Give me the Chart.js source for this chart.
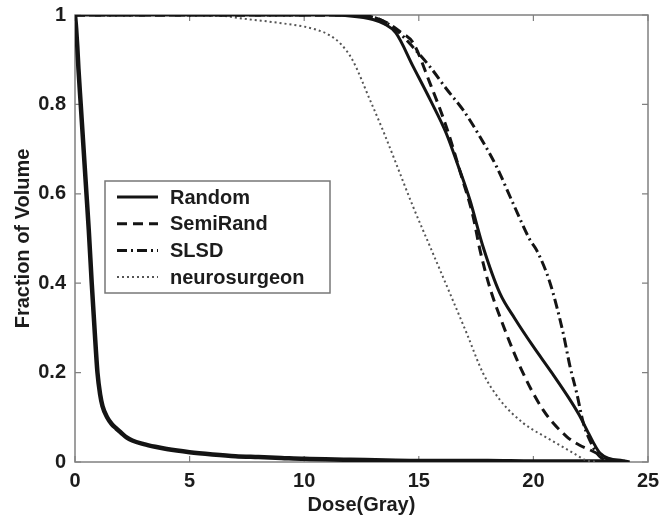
<!DOCTYPE html>
<html><head><meta charset="utf-8">
<script src="https://cdn.jsdelivr.net/npm/chart.js@4/dist/chart.umd.min.js"></script>
<style>html,body{margin:0;padding:0;background:#fff}#wrap{width:660px;height:519px}</style>
</head><body><div id="wrap"><canvas id="c" width="660" height="519"></canvas></div>
<script>
// ---- data ----
const xTicks = [0, 5, 10, 15, 20, 25];
const yTicks = [0, 0.2, 0.4, 0.6, 0.8, 1];
const yTickLabels = ['0', '0.2', '0.4', '0.6', '0.8', '1'];
const seriesNames = ['Random', 'SemiRand', 'SLSD', 'neurosurgeon'];

const randomDose = [0, 11, 12, 13, 13.5, 14.0, 14.76, 15.5, 16.2, 16.7, 17.23, 17.8, 18.54, 19.2, 20.0, 20.8, 21.6, 22.0, 22.33, 22.6, 22.9, 23.3, 23.9, 24.2];
const randomFrac = [1, 1, 0.998, 0.99, 0.98, 0.96, 0.884, 0.81, 0.735, 0.665, 0.586, 0.482, 0.377, 0.32, 0.258, 0.2, 0.139, 0.105, 0.072, 0.045, 0.02, 0.008, 0.003, 0];

const semiDose = [0, 12, 13, 13.7, 14.2, 14.76, 15.49, 16.2, 16.8, 17.37, 17.67, 18.1, 18.54, 19.42, 20.43, 21.45, 22.0, 22.47, 22.9, 23.3, 23.8];
const semiFrac = [1, 1, 0.995, 0.98, 0.962, 0.937, 0.847, 0.75, 0.65, 0.549, 0.474, 0.39, 0.325, 0.213, 0.116, 0.057, 0.038, 0.027, 0.016, 0.005, 0];

const slsdDose = [0, 12, 13, 13.5, 14.03, 14.8, 15.49, 16.2, 16.94, 17.7, 18.4, 19.1, 19.85, 20.14, 20.73, 21.3, 21.6, 21.89, 22.18, 22.6, 22.9, 23.5, 24.0];
const slsdFrac = [1, 1, 0.995, 0.985, 0.966, 0.925, 0.884, 0.835, 0.787, 0.725, 0.66, 0.58, 0.497, 0.474, 0.4, 0.288, 0.213, 0.154, 0.087, 0.034, 0.012, 0.002, 0];

const neuroDose = [0, 5, 6.5, 7.3, 8, 9.1, 10, 10.6, 11.1, 11.6, 12.1, 12.87, 13.45, 14.03, 14.76, 15.49, 16.36, 17.09, 17.8, 18.54, 19.56, 20.73, 21.74, 22.3, 22.8];
const neuroFrac = [1, 1, 0.998, 0.992, 0.988, 0.981, 0.974, 0.966, 0.955, 0.935, 0.9, 0.81, 0.74, 0.665, 0.57, 0.482, 0.377, 0.288, 0.199, 0.139, 0.087, 0.05, 0.02, 0.004, 0];

// normal-tissue curves (all four methods overlap near the y axis)
const tissueDose = [0, 0.05, 0.1, 0.15, 0.25, 0.35, 0.5, 0.6, 0.73, 0.85, 0.98, 1.1, 1.2, 1.4, 1.6, 1.8, 2.0, 2.25, 2.5, 3.0, 3.5, 4.0, 5.0, 6.0, 7.0, 8.0, 9.0, 10.0, 12.0, 14.0, 16.0, 18.0, 20.0, 22.0, 23.0, 24.0];
const tissueFrac = [1, 0.97, 0.93, 0.88, 0.8, 0.72, 0.6, 0.52, 0.4, 0.3, 0.2, 0.15, 0.125, 0.1, 0.085, 0.075, 0.066, 0.055, 0.048, 0.04, 0.034, 0.029, 0.022, 0.017, 0.013, 0.011, 0.009, 0.007, 0.005, 0.003, 0.002, 0.002, 0.001, 0.001, 0.001, 0];

const pts = (xs, ys) => xs.map((x, i) => ({x: x, y: ys[i]}));
const INK = '#141414';
const FONT = '"Liberation Sans", Arial, Helvetica, sans-serif';

const styles = [
  {borderColor: INK, borderWidth: 3, borderDash: []},
  {borderColor: INK, borderWidth: 3, borderDash: [10, 6]},
  {borderColor: INK, borderWidth: 3, borderDash: [10, 4, 2, 4]},
  {borderColor: '#555', borderWidth: 2, borderDash: [2, 3]}
];
const seriesData = [pts(randomDose, randomFrac), pts(semiDose, semiFrac), pts(slsdDose, slsdFrac), pts(neuroDose, neuroFrac)];

const datasets = seriesNames.map((n, i) => Object.assign({
  label: n, data: seriesData[i], pointRadius: 0, fill: false,
  cubicInterpolationMode: 'monotone'
}, styles[i]));
datasets.push({label: 'tissue', data: pts(tissueDose, tissueFrac), borderColor: INK, borderWidth: 4.5,
  pointRadius: 0, fill: false, cubicInterpolationMode: 'monotone'});

const framePlugin = {
  id: 'frame',
  beforeDatasetsDraw(chart) {
    const {ctx, chartArea: a, scales} = chart;
    ctx.save();
    ctx.strokeStyle = '#808080';
    ctx.lineWidth = 1.5;
    ctx.strokeRect(a.left, a.top, a.right - a.left, a.bottom - a.top);
    ctx.lineWidth = 1.2;
    const L = 6;
    ctx.beginPath();
    xTicks.forEach(v => {
      const x = scales.x.getPixelForValue(v);
      ctx.moveTo(x, a.bottom); ctx.lineTo(x, a.bottom - L);
      ctx.moveTo(x, a.top); ctx.lineTo(x, a.top + L);
    });
    yTicks.forEach(v => {
      const y = scales.y.getPixelForValue(v);
      ctx.moveTo(a.left, y); ctx.lineTo(a.left + L, y);
      ctx.moveTo(a.right, y); ctx.lineTo(a.right - L, y);
    });
    ctx.stroke();
    ctx.restore();
  }
};

const legendPlugin = {
  id: 'boxLegend',
  afterDraw(chart) {
    const {ctx} = chart;
    const bx = 105, by = 181, bw = 225, bh = 112;
    ctx.save();
    ctx.fillStyle = '#fff';
    ctx.fillRect(bx, by, bw, bh);
    ctx.strokeStyle = '#777';
    ctx.lineWidth = 1.5;
    ctx.strokeRect(bx, by, bw, bh);
    ctx.font = 'bold 20px ' + FONT;
    ctx.textBaseline = 'middle';
    ctx.textAlign = 'left';
    seriesNames.forEach((n, i) => {
      const ds = chart.data.datasets[i];
      const y = 197 + i * 26.7;
      ctx.beginPath();
      ctx.strokeStyle = ds.borderColor;
      ctx.lineWidth = ds.borderWidth;
      ctx.setLineDash(ds.borderDash);
      ctx.moveTo(117, y); ctx.lineTo(158, y);
      ctx.stroke();
      ctx.setLineDash([]);
      ctx.fillStyle = '#1c1c1c';
      ctx.fillText(n, 170, y + 1);
    });
    ctx.restore();
  }
};

new Chart(document.getElementById('c'), {
  type: 'line',
  data: {datasets: datasets},
  options: {
    responsive: false, animation: false, devicePixelRatio: 1,
    layout: {padding: {top: 15, right: 12, left: 0, bottom: 0}},
    plugins: {legend: {display: false}, tooltip: {enabled: false}},
    scales: {
      x: {
        type: 'linear', min: 0, max: 25,
        afterBuildTicks: s => { s.ticks = xTicks.map(v => ({value: v})); },
        afterFit: s => { s.height = 57; },
        ticks: {font: {family: FONT, size: 20, weight: 'bold'}, color: '#1c1c1c', padding: -1, maxRotation: 0},
        grid: {display: false}, border: {display: false},
        title: {display: true, text: 'Dose(Gray)', font: {family: FONT, size: 20, weight: 'bold'}, color: '#1c1c1c', padding: {top: 0, bottom: 2}}
      },
      y: {
        type: 'linear', min: 0, max: 1,
        afterBuildTicks: s => { s.ticks = yTicks.map(v => ({value: v})); },
        afterFit: s => { s.width = 75; },
        ticks: {font: {family: FONT, size: 20, weight: 'bold'}, color: '#1c1c1c', padding: 1,
          callback: (v, i) => yTickLabels[i]},
        grid: {display: false}, border: {display: false},
        title: {display: true, text: 'Fraction of Volume', font: {family: FONT, size: 20, weight: 'bold'}, color: '#1c1c1c', padding: {top: 11, bottom: 0}}
      }
    }
  },
  plugins: [framePlugin, legendPlugin]
});
</script></body></html>
